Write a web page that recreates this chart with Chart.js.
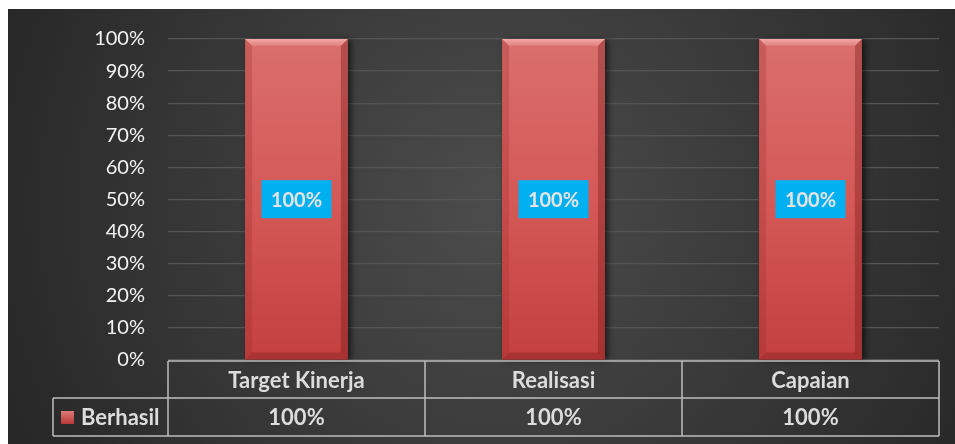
<!DOCTYPE html>
<html>
<head>
<meta charset="utf-8">
<script src="https://cdn.jsdelivr.net/npm/chart.js@4.4.0/dist/chart.umd.min.js"></script>
<style>
    html, body { margin: 0; padding: 0; background: #ffffff; }
    #wrap { position: absolute; left: 8px; top: 9px; width: 947px; height: 435px; }
</style>
</head>
<body>
<div id="wrap"><canvas id="chart" width="947" height="435"></canvas></div>
<script>
const categories = ['Target Kinerja', 'Realisasi', 'Capaian'];
const seriesName = 'Berhasil';
const berhasil = [100, 100, 100];
const yTicks = [0, 10, 20, 30, 40, 50, 60, 70, 80, 90, 100];

const FONT = 'Lato, "Open Sans", sans-serif';
const pct = v => v + '%';

// dark radial backdrop behind everything
const backdrop = {
    id: 'backdrop',
    beforeDraw(chart) {
        const { ctx, width, height } = chart;
        const g = ctx.createRadialGradient(width * 0.52, height * 0.45, 20, width * 0.52, height * 0.45, width * 0.6);
        g.addColorStop(0, '#4b4b4b');
        g.addColorStop(1, '#252525');
        ctx.save();
        ctx.fillStyle = g;
        ctx.fillRect(0, 0, width, height);
        ctx.restore();
    }
};

// soft shadow under each bar
const barShadow = {
    id: 'barShadow',
    beforeDatasetsDraw(chart) {
        const { ctx } = chart;
        ctx.save();
        chart.getDatasetMeta(0).data.forEach(bar => {
            const l = bar.x - bar.width / 2;
            ctx.shadowColor = 'rgba(0,0,0,0.6)';
            ctx.shadowBlur = 6;
            ctx.shadowOffsetX = 3;
            ctx.shadowOffsetY = 1;
            ctx.fillStyle = '#8a2c2b';
            ctx.fillRect(l, bar.y, bar.width, bar.base - bar.y);
        });
        ctx.restore();
    }
};

// bevel edges + value boxes
const bevel = {
    id: 'bevel',
    afterDatasetsDraw(chart) {
        const { ctx } = chart;
        const b = 7;
        const ds = chart.data.datasets[0];
        chart.getDatasetMeta(0).data.forEach((bar, i) => {
            const l = bar.x - bar.width / 2, r = bar.x + bar.width / 2;
            const t = bar.y, bt = bar.base;
            ctx.save();
            // top
            let g = ctx.createLinearGradient(0, t, 0, t + b);
            g.addColorStop(0, '#f2a9a6');
            g.addColorStop(1, '#df7f7c');
            ctx.fillStyle = g;
            ctx.beginPath();
            ctx.moveTo(l, t); ctx.lineTo(r, t); ctx.lineTo(r - b, t + b); ctx.lineTo(l + b, t + b);
            ctx.closePath(); ctx.fill();
            // left
            ctx.fillStyle = 'rgba(150,40,40,0.25)';
            ctx.beginPath();
            ctx.moveTo(l, t); ctx.lineTo(l + b, t + b); ctx.lineTo(l + b, bt - b); ctx.lineTo(l, bt);
            ctx.closePath(); ctx.fill();
            // right
            ctx.fillStyle = 'rgba(110,20,20,0.35)';
            ctx.beginPath();
            ctx.moveTo(r, t); ctx.lineTo(r - b, t + b); ctx.lineTo(r - b, bt - b); ctx.lineTo(r, bt);
            ctx.closePath(); ctx.fill();
            // bottom
            ctx.fillStyle = 'rgba(120,25,25,0.35)';
            ctx.beginPath();
            ctx.moveTo(l, bt); ctx.lineTo(r, bt); ctx.lineTo(r - b, bt - b); ctx.lineTo(l + b, bt - b);
            ctx.closePath(); ctx.fill();

            // value label in a cyan box at mid-height
            const cy = (t + bt) / 2;
            const bw = 70, bh = 38;
            ctx.fillStyle = '#00b0f0';
            ctx.fillRect(bar.x - bw / 2, cy - bh / 2, bw, bh);
            ctx.fillStyle = '#e4e4e4';
            ctx.font = 'bold 20px ' + FONT;
            ctx.textAlign = 'center';
            ctx.textBaseline = 'middle';
            ctx.fillText(pct(ds.data[i]), bar.x, cy + 1);
            ctx.restore();
        });
    }
};

// data table under the plot
const dataTable = {
    id: 'dataTable',
    afterDraw(chart) {
        const { ctx, chartArea } = chart;
        const x = chart.scales.x;
        const n = chart.data.labels.length;
        const colW = (chartArea.right - chartArea.left) / n;
        const top = chartArea.bottom + 1;
        const mid = top + 37;
        const bot = mid + 38;
        const legL = 45;
        ctx.save();
        ctx.strokeStyle = '#bdbdbd';
        ctx.lineWidth = 1.5;
        ctx.beginPath();
        ctx.moveTo(chartArea.left, top); ctx.lineTo(chartArea.right, top);
        ctx.moveTo(legL, mid); ctx.lineTo(chartArea.right, mid);
        ctx.moveTo(legL, bot); ctx.lineTo(chartArea.right, bot);
        ctx.moveTo(legL, mid); ctx.lineTo(legL, bot);
        for (let i = 0; i <= n; i++) {
            const vx = chartArea.left + colW * i;
            ctx.moveTo(vx, top); ctx.lineTo(vx, bot);
        }
        ctx.stroke();

        ctx.font = 'bold 22px ' + FONT;
        ctx.fillStyle = '#dcdcdc';
        ctx.textAlign = 'center';
        ctx.textBaseline = 'middle';
        const ds = chart.data.datasets[0];
        chart.data.labels.forEach((lab, i) => {
            const cx = x.getPixelForTick(i);
            ctx.fillText(lab, cx, (top + mid) / 2 + 1);
            ctx.fillText(pct(ds.data[i]), cx, (mid + bot) / 2 + 1);
        });

        // legend key
        const ky = (mid + bot) / 2;
        const kg = ctx.createLinearGradient(0, ky - 6, 0, ky + 7);
        kg.addColorStop(0, '#e07a78');
        kg.addColorStop(1, '#b83a38');
        ctx.fillStyle = kg;
        ctx.fillRect(53, ky - 6, 13, 13);
        ctx.fillStyle = '#dcdcdc';
        ctx.textAlign = 'left';
        ctx.fillText(ds.label, 73, ky + 1);
        ctx.restore();
    }
};

new Chart(document.getElementById('chart'), {
    type: 'bar',
    data: {
        labels: categories,
        datasets: [{
            label: seriesName,
            data: berhasil,
            barPercentage: 0.4,
            categoryPercentage: 1.0,
            borderWidth: 0,
            backgroundColor(c) {
                const area = c.chart.chartArea;
                if (!area) return '#d05250';
                const g = c.chart.ctx.createLinearGradient(0, area.top, 0, area.bottom);
                g.addColorStop(0, '#d96f6c');
                g.addColorStop(0.5, '#d45957');
                g.addColorStop(1, '#c3403f');
                return g;
            }
        }]
    },
    options: {
        responsive: false,
        animation: false,
        layout: { padding: { top: 30, right: 16, bottom: 84, left: 0 } },
        plugins: {
            legend: { display: false },
            tooltip: { enabled: false }
        },
        scales: {
            x: {
                display: false,
                offset: true
            },
            y: {
                min: 0,
                max: 100,
                afterFit(scale) {
                    scale.width = 160;
                    scale.paddingTop = 0;
                    scale.paddingBottom = 0;
                },
                afterBuildTicks(scale) { scale.ticks = yTicks.map(v => ({ value: v })); },
                grid: { color: '#555555', lineWidth: 1.2, drawTicks: false },
                border: { display: false },
                ticks: {
                    padding: 23,
                    color: '#f2f2f2',
                    font: { family: FONT, size: 20 },
                    callback: v => pct(v)
                }
            }
        }
    },
    plugins: [backdrop, barShadow, bevel, dataTable]
});
</script>
</body>
</html>
